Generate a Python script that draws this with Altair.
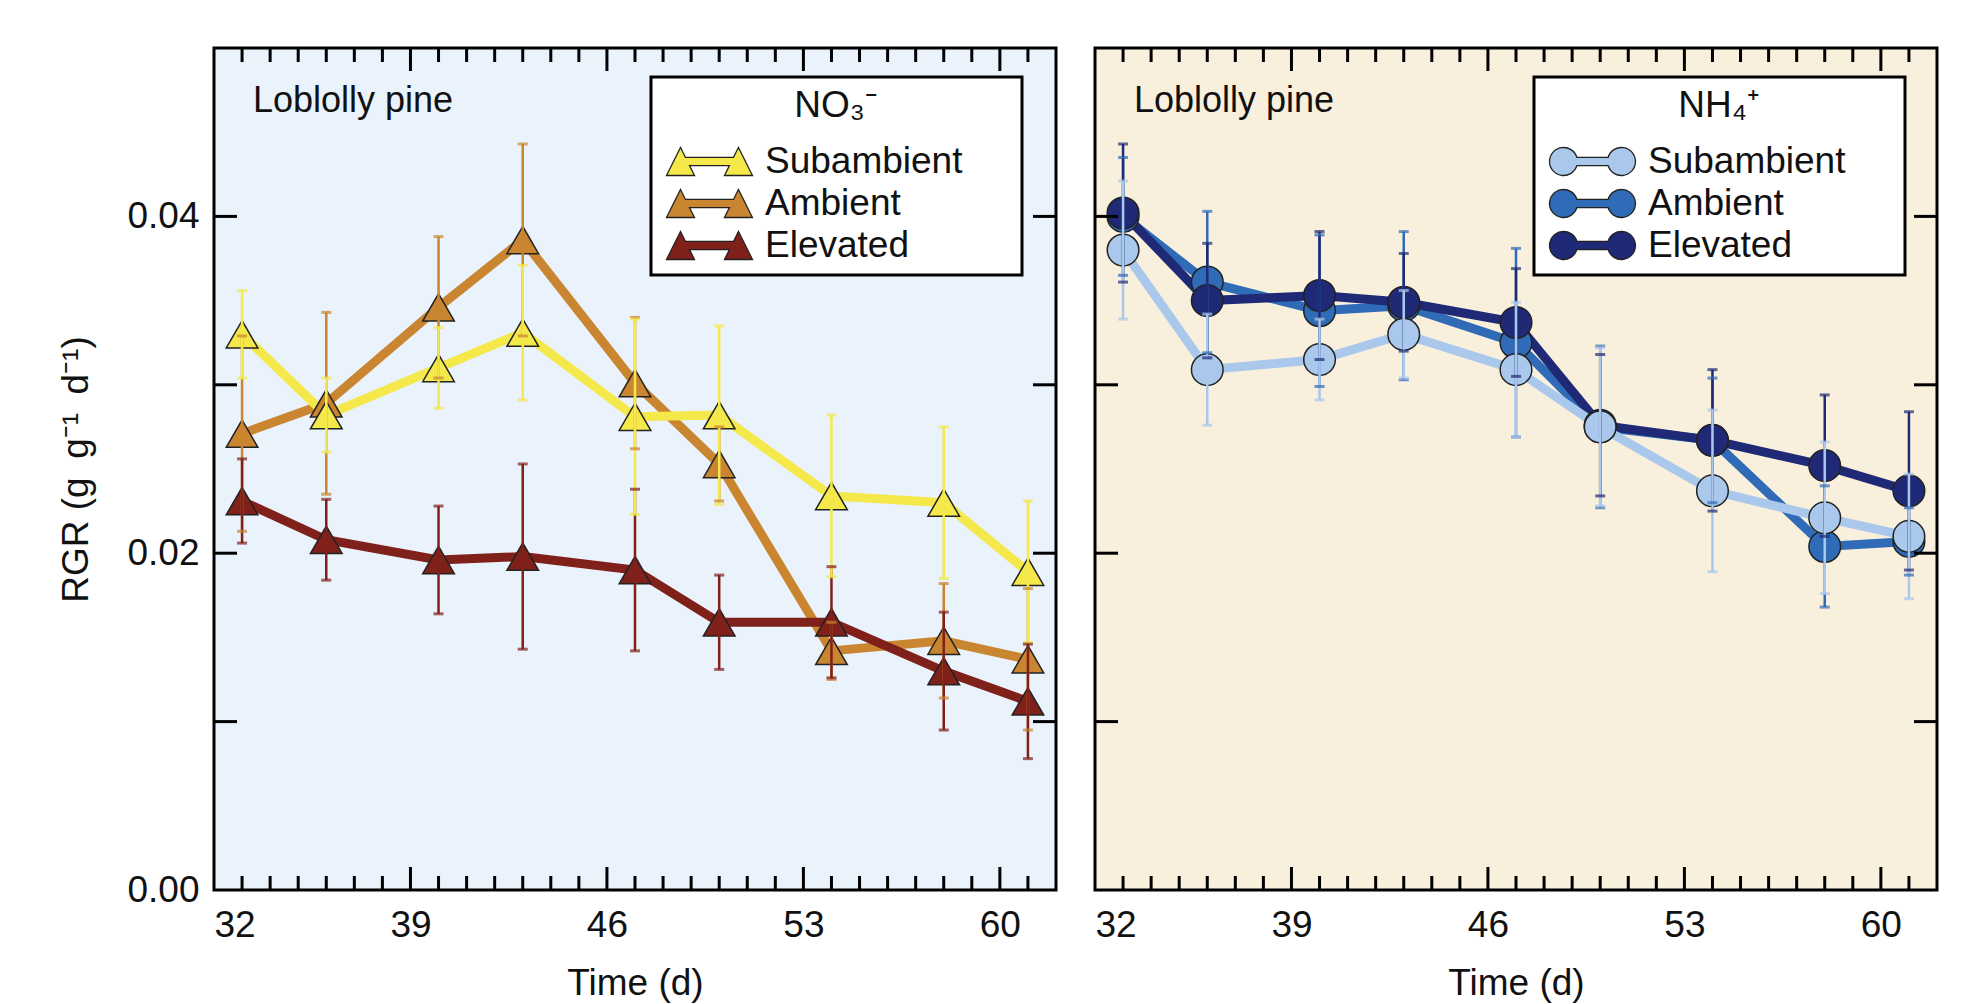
import altair as alt
import pandas as pd

# ---------------- data ----------------
days = [33, 36, 40, 43, 47, 50, 54, 58, 61]
series_order = ["Subambient", "Ambient", "Elevated"]

# NO3- panel
no3_sub = [0.0330, 0.0282, 0.0310, 0.0331, 0.0281, 0.0282, 0.0234, 0.0230, 0.0189]
no3_sub_err = [0.0026, 0.0022, 0.0024, 0.0040, 0.0058, 0.0053, 0.0048, 0.0045, 0.0042]
no3_amb = [0.0271, 0.0289, 0.0346, 0.0386, 0.0301, 0.0253, 0.0142, 0.0148, 0.0137]
no3_amb_err = [0.0058, 0.0054, 0.0042, 0.0057, 0.0039, 0.0022, 0.0017, 0.0034, 0.0042]
no3_elev = [0.0231, 0.0208, 0.0196, 0.0198, 0.0190, 0.0159, 0.0159, 0.0130, 0.0112]
no3_elev_err = [0.0025, 0.0024, 0.0032, 0.0055, 0.0048, 0.0028, 0.0033, 0.0035, 0.0034]

# NH4+ panel
nh4_sub = [0.0380, 0.0309, 0.0315, 0.0330, 0.0309, 0.0275, 0.0237, 0.0221, 0.0210]
nh4_sub_err = [0.0041, 0.0033, 0.0024, 0.0026, 0.0040, 0.0047, 0.0048, 0.0045, 0.0037]
nh4_amb = [0.0400, 0.0361, 0.0344, 0.0347, 0.0325, 0.0275, 0.0267, 0.0204, 0.0207]
nh4_amb_err = [0.0035, 0.0042, 0.0045, 0.0044, 0.0056, 0.0048, 0.0037, 0.0036, 0.0020]
nh4_elev = [0.0402, 0.0350, 0.0353, 0.0349, 0.0337, 0.0276, 0.0267, 0.0252, 0.0237]
nh4_elev_err = [0.0041, 0.0034, 0.0038, 0.0029, 0.0032, 0.0042, 0.0042, 0.0042, 0.0047]

no3_colors = ["#F4E84A", "#C9852F", "#80201A"]
nh4_colors = ["#A9C8EC", "#2F6BB6", "#1F2975"]

x_label_values = [32, 39, 46, 53, 60]
x_major_ticks = [39, 46, 53, 60]
x_minor_ticks = [d for d in range(33, 62) if d not in x_major_ticks]
y_tick_values = [0.01, 0.02, 0.03, 0.04]
y_label_values = [0.0, 0.02, 0.04]

FONT = "Liberation Sans"
W, H = 842, 842

TRI_PATH = ("M-1,1 L0,-1 L0.355,-0.29 L3.785,-0.29 L4.14,-1 L5.14,1 "
            "L3.14,1 L3.495,0.29 L0.645,0.29 L1,1 Z")
CIRC_PATH = ("M0.957,-0.29 A1,1 0 1,0 0.957,0.29 L3.183,0.29 "
             "A1,1 0 1,0 3.183,-0.29 Z")

# trailing blank room inside the legend box (end char is not trimmed)
LABEL_PAD = "\u00a0" * 2 + "\u2800"


def make_df(sub, sub_e, amb, amb_e, elev, elev_e, colors):
    cmap = dict(zip(series_order, colors))
    rows = []
    # drawing order: Ambient, Elevated, Subambient (subambient on top)
    for name, m, e in [("Ambient", amb, amb_e), ("Elevated", elev, elev_e),
                       ("Subambient", sub, sub_e)]:
        for d, v, s in zip(days, m, e):
            rows.append({"day": d, "series": name, "rgr": v,
                         "lo": v - s, "hi": v + s, "col": cmap[name]})
    return pd.DataFrame(rows)


def panel(df, colors, shape, sym_path, legend_title, legend_x, bg, show_y):
    xs = alt.Scale(domain=[32, 62], nice=False, zero=False)
    ys = alt.Scale(domain=[0, 0.05], nice=False)
    xax = alt.Axis(values=x_label_values, title="Time (d)", ticks=False,
                   tickSize=0, domain=False, grid=False, labelPadding=17,
                   titlePadding=22)
    if show_y:
        yax = alt.Axis(values=y_label_values, format=".2f",
                       title="RGR (g\u2002g⁻¹\u2002d⁻¹)", ticks=False,
                       tickSize=0, domain=False, grid=False, labelPadding=15,
                       titlePadding=31)
    else:
        yax = None
    cscale = alt.Scale(domain=series_order, range=colors)

    X = alt.X("day:Q", scale=xs, axis=xax)
    base = alt.Chart(df)
    stroke_enc = alt.Stroke("col:N", scale=None)
    fill_enc = alt.Fill("col:N", scale=None)

    lines = base.mark_line(strokeWidth=9, strokeCap="butt").encode(
        x=X, y=alt.Y("rgr:Q", scale=ys, axis=yax),
        stroke=stroke_enc, detail="series:N")

    points = base.mark_point(filled=True, shape=shape, size=1000,
                             stroke="#222222", strokeWidth=1.5,
                             opacity=1).encode(
        x=X, y=alt.Y("rgr:Q", scale=ys, axis=yax),
        color=alt.Color("series:N", scale=cscale, legend=alt.Legend(
            title=legend_title, orient="none", legendX=legend_x, legendY=29,
            symbolType=sym_path, symbolSize=784, symbolStrokeColor="#222222",
            symbolStrokeWidth=1.3, symbolOpacity=1,
            fillColor="white", strokeColor="black", padding=11,
            titleFontSize=37, labelFontSize=37, titleFont=FONT,
            labelFont=FONT, titleFontWeight="normal", titleColor="#111",
            labelColor="#111", titleAnchor="middle", titleAlign="center",
            titlePadding=18, rowPadding=4, labelOffset=66, labelLimit=600,
            labelExpr="datum.label + '" + LABEL_PAD + "'")))

    bars = base.mark_rule(strokeWidth=2.5).encode(
        x=X, y=alt.Y("lo:Q", scale=ys, axis=yax), y2="hi:Q",
        stroke=stroke_enc)
    cap_lo = base.mark_tick(orient="horizontal", size=10, thickness=3).encode(
        x=X, y=alt.Y("lo:Q", scale=ys, axis=yax), fill=fill_enc)
    cap_hi = base.mark_tick(orient="horizontal", size=10, thickness=3).encode(
        x=X, y=alt.Y("hi:Q", scale=ys, axis=yax), fill=fill_enc)

    # inward ticks
    minor_df = pd.DataFrame({"day": x_minor_ticks})
    major_df = pd.DataFrame({"day": x_major_ticks})
    ytick_df = pd.DataFrame({"v": y_tick_values})
    tick_layers = []
    for tdf, ln in [(minor_df, 14), (major_df, 23)]:
        tick_layers.append(alt.Chart(tdf).mark_rule(
            color="black", strokeWidth=3).encode(
            x=X, y=alt.value(H), y2=alt.value(H - ln)))
        tick_layers.append(alt.Chart(tdf).mark_rule(
            color="black", strokeWidth=3).encode(
            x=X, y=alt.value(0), y2=alt.value(ln)))
    tick_layers.append(alt.Chart(ytick_df).mark_rule(
        color="black", strokeWidth=3).encode(
        y=alt.Y("v:Q", scale=ys, axis=yax), x=alt.value(0), x2=alt.value(23)))
    tick_layers.append(alt.Chart(ytick_df).mark_rule(
        color="black", strokeWidth=3).encode(
        y=alt.Y("v:Q", scale=ys, axis=yax), x=alt.value(W),
        x2=alt.value(W - 23)))

    label = alt.Chart(pd.DataFrame({"t": ["Loblolly pine"]})).mark_text(
        align="left", baseline="top", fontSize=36, font=FONT,
        color="#111").encode(text="t:N", x=alt.value(39), y=alt.value(36))

    return alt.layer(lines, points, bars, cap_lo, cap_hi, *tick_layers,
                     label).properties(
        width=W, height=H, view=alt.ViewBackground(fill=bg))


df_no3 = make_df(no3_sub, no3_sub_err, no3_amb, no3_amb_err, no3_elev,
                 no3_elev_err, no3_colors)
df_nh4 = make_df(nh4_sub, nh4_sub_err, nh4_amb, nh4_amb_err, nh4_elev,
                 nh4_elev_err, nh4_colors)

left = panel(df_no3, no3_colors, "triangle-up", TRI_PATH, "NO₃⁻", 437,
             "#EAF2FB", True)
right = panel(df_nh4, nh4_colors, "circle", CIRC_PATH, "NH₄⁺", 439,
              "#F8F0DC", False)

chart = alt.hconcat(left, right, spacing=39).resolve_scale(
    color="independent", x="independent", y="independent").properties(
    bounds="flush",
    padding={"left": 48, "top": 37, "right": 5, "bottom": 0},
).configure_view(stroke="black", strokeWidth=3).configure_axis(
    labelFont=FONT, titleFont=FONT, labelFontSize=37, titleFontSize=37,
    labelColor="#111", titleColor="#111", titleFontWeight="normal"
).configure_legend(strokeWidth=3)

chart.save("out.html", embed_options={"renderer": "svg", "actions": False})
